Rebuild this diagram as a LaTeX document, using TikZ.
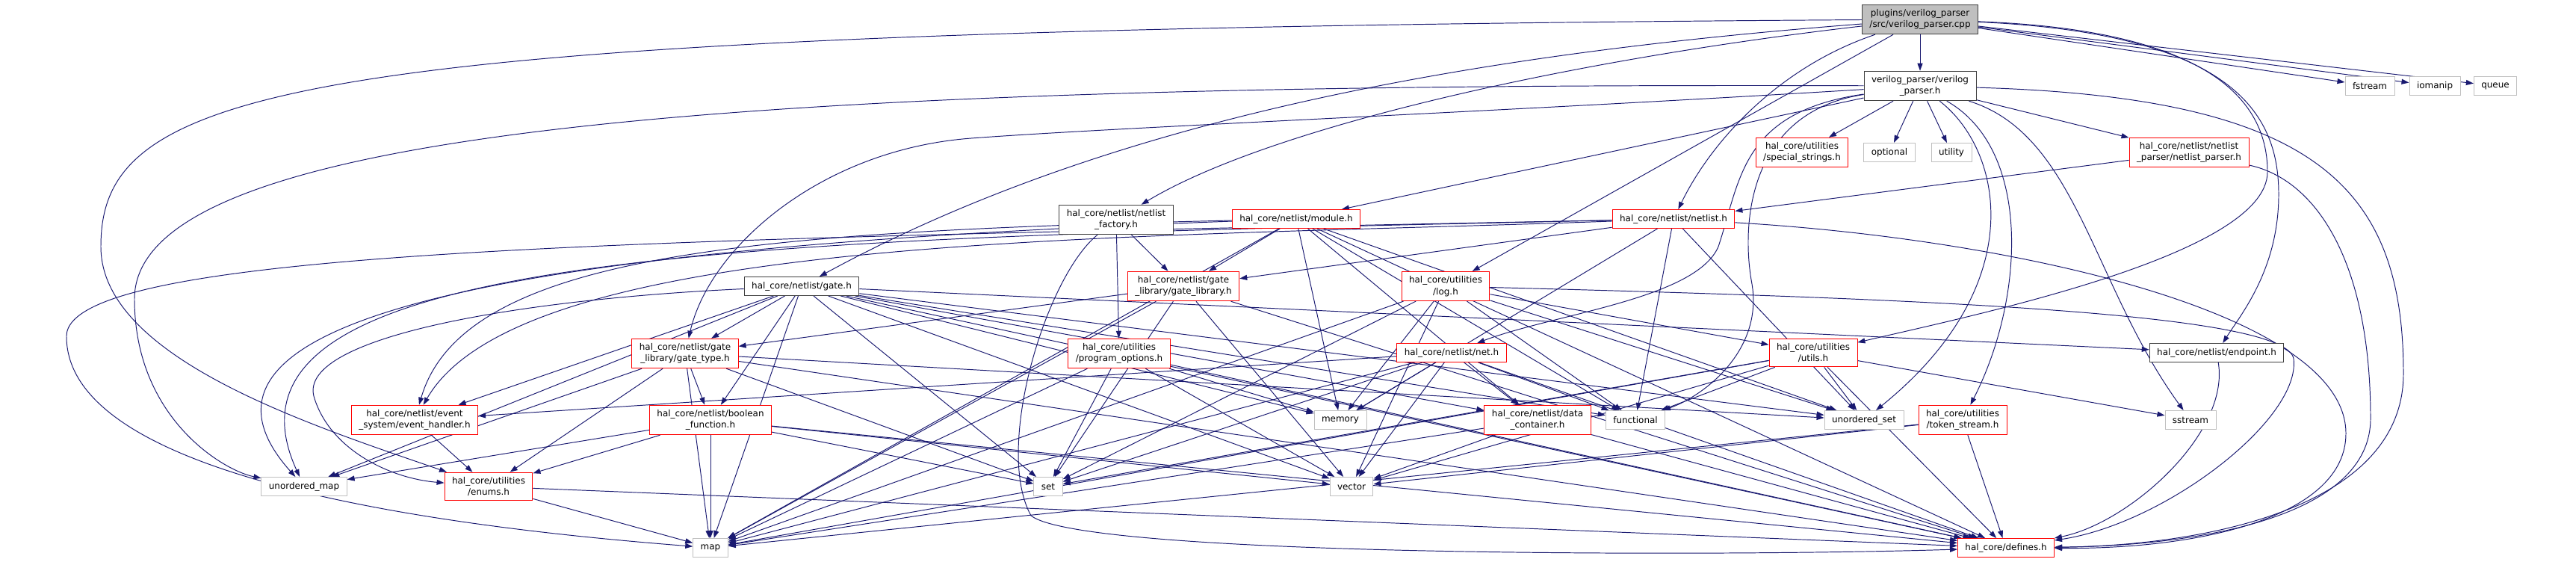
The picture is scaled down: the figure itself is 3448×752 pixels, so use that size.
\documentclass[tikz,border=0pt]{standalone}
\usepackage{fontspec}
\setmainfont{DejaVu Sans}
\usetikzlibrary{arrows.meta}
\definecolor{edgeblue}{HTML}{191970}
\definecolor{boxgray}{HTML}{BFBFBF}
\definecolor{boxline}{HTML}{404040}
\pgfdeclarelayer{back}
\pgfsetlayers{back,main}
\tikzset{
  file/.style={draw=boxline, fill=white, line width=0.55pt, align=center,
    font=\fontsize{6.8}{8.9}\selectfont, inner xsep=2mm, inner ysep=1.2mm, minimum height=5mm},
  partial/.style={file, draw=red},
  sysfile/.style={file, draw=boxgray},
  start/.style={file, fill=boxgray},
  inc/.style={edgeblue, line width=0.55pt, -{Triangle[length=2mm,width=1.4mm]}}
}
\begin{document}
\begin{tikzpicture}[x=0.2mm,y=-0.2mm]
\useasboundingbox (0,0) rectangle (3448,752);
% top rows
\node[start] (cpp) at (2570,26) {plugins/verilog\_parser\\/src/verilog\_parser.cpp};
\node[file] (vph) at (2570,115) {verilog\_parser/verilog\\\_parser.h};
\node[sysfile] (fstream) at (3172,115) {fstream};
\node[sysfile] (iomanip) at (3259,115) {iomanip};
\node[sysfile] (queue) at (3340,115) {queue};
\node[partial] (special) at (2412,204) {hal\_core/utilities\\/special\_strings.h};
\node[sysfile] (optional) at (2529,204) {optional};
\node[sysfile] (utility) at (2612,204) {utility};
\node[partial] (nlparser) at (2930,204) {hal\_core/netlist/netlist\\\_parser/netlist\_parser.h};
\node[file] (factory) at (1494,294) {hal\_core/netlist/netlist\\\_factory.h};
\node[partial] (module) at (1735,293) {hal\_core/netlist/module.h};
\node[partial] (netlist) at (2240,293) {hal\_core/netlist/netlist.h};
% middle rows
\node[file] (gate) at (1073,383) {hal\_core/netlist/gate.h};
\node[partial] (gatelib) at (1584,383) {hal\_core/netlist/gate\\\_library/gate\_library.h};
\node[partial] (log) at (1935,383) {hal\_core/utilities\\/log.h};
\node[partial] (gatetype) at (917,473) {hal\_core/netlist/gate\\\_library/gate\_type.h};
\node[partial] (progopt) at (1498,473) {hal\_core/utilities\\/program\_options.h};
\node[partial] (net) at (1943,472) {hal\_core/netlist/net.h};
\node[partial] (utils) at (2427,472) {hal\_core/utilities\\/utils.h};
\node[file] (endpoint) at (2967,472) {hal\_core/netlist/endpoint.h};
\node[partial] (event) at (555,562) {hal\_core/netlist/event\\\_system/event\_handler.h};
\node[partial] (boolfn) at (951,562) {hal\_core/netlist/boolean\\\_function.h};
\node[sysfile] (memory) at (1794,562) {memory};
\node[partial] (datacont) at (2058,562) {hal\_core/netlist/data\\\_container.h};
\node[sysfile] (functional) at (2189,562) {functional};
\node[sysfile] (uset) at (2495,562) {unordered\_set};
\node[partial] (token) at (2627,562) {hal\_core/utilities\\/token\_stream.h};
\node[sysfile] (sstream) at (2932,562) {sstream};
% bottom rows
\node[sysfile] (umap) at (407,651) {unordered\_map};
\node[partial] (enums) at (654,651) {hal\_core/utilities\\/enums.h};
\node[sysfile] (set) at (1403,651) {set};
\node[sysfile] (vector) at (1809,651) {vector};
\node[sysfile] (map) at (951,733) {map};
\node[partial] (defines) at (2685,733) {hal\_core/defines.h};

\begin{pgfonlayer}{back}
% verilog_parser.cpp
\foreach \t in {vph,log,fstream,iomanip,queue}
  \draw[inc] (cpp) -- (\t);
\draw[inc] (cpp) .. controls (2380,90) and (2290,190) .. (netlist);
\draw[inc] (cpp) .. controls (2000,70) and (1500,150) .. (gate);
\draw[inc] (cpp) .. controls (2100,80) and (1700,170) .. (factory);
\draw[inc] (cpp) .. controls (400,40) and (135,110) .. (135,330) .. controls (135,480) and (420,570) .. (enums);
\draw[inc] (cpp) .. controls (2950,40) and (3035,130) .. (3035,230) .. controls (3035,340) and (2650,420) .. (utils);
\draw[inc] (cpp) .. controls (3000,45) and (3050,160) .. (3050,260) .. controls (3050,360) and (3000,420) .. (endpoint);
% verilog_parser.h
\foreach \t in {special,optional,utility,nlparser,module}
  \draw[inc] (vph) -- (\t);
\draw[inc] (vph) .. controls (2330,150) and (2330,240) .. (2300,330) .. controls (2270,400) and (2080,420) .. (net);
\draw[inc] (vph) .. controls (1000,110) and (180,170) .. (180,400) .. controls (180,560) and (300,630) .. (umap);
\draw[inc] (vph) .. controls (2000,150) and (1500,170) .. (1300,185) .. controls (1100,200) and (950,330) .. (gatetype);
\draw[inc] (vph) .. controls (2340,150) and (2330,300) .. (2345,380) .. controls (2360,470) and (2280,530) .. (functional);
\draw[inc] (vph) .. controls (2680,200) and (2720,380) .. (uset);
\draw[inc] (vph) .. controls (2720,200) and (2710,400) .. (token);
\draw[inc] (vph) .. controls (2780,180) and (2800,380) .. (sstream);
\draw[inc] (vph) .. controls (3100,130) and (3217,250) .. (3217,500) .. controls (3217,680) and (2950,730) .. (defines);
% netlist parser and netlist
\draw[inc] (nlparser) -- (netlist);
\draw[inc] (nlparser) .. controls (3100,240) and (3173,350) .. (3173,560) .. controls (3173,690) and (2950,730) .. (defines);
\foreach \t in {gatelib,memory,functional,uset}
  \draw[inc] (netlist) -- (\t);
\draw[inc] (netlist) .. controls (1500,320) and (700,310) .. (event);
\draw[inc] (netlist) .. controls (1000,320) and (260,330) .. (umap);
\draw[inc] (netlist) .. controls (900,320) and (89,330) .. (89,450) .. controls (89,600) and (400,690) .. (map);
\draw[inc] (netlist) .. controls (2700,320) and (3140,420) .. (3140,580) .. controls (3140,690) and (2950,735) .. (defines);
% module
\foreach \t in {gatelib,memory,functional,datacont,uset,defines,map}
  \draw[inc] (module) -- (\t);
\draw[inc] (module) .. controls (1000,310) and (620,340) .. (event);
\draw[inc] (module) .. controls (700,330) and (200,420) .. (umap);
% netlist factory
\foreach \t in {gatelib,progopt}
  \draw[inc] (factory) -- (\t);
\draw[inc] (factory) .. controls (1400,370) and (1330,600) .. (1380,690) .. controls (1450,745) and (2300,745) .. (defines);
% gate library and gate
\foreach \t in {gatetype,set,map,vector,defines}
  \draw[inc] (gatelib) -- (\t);
\foreach \t in {gatetype,boolfn,set,event,umap,map,memory,functional,vector,datacont,defines,endpoint,uset}
  \draw[inc] (gate) -- (\t);
\draw[inc] (gate) .. controls (700,400) and (400,450) .. (420,530) .. controls (440,600) and (520,640) .. (enums);
% log, utils, net
\foreach \t in {memory,set,functional,map,vector,uset,utils}
  \draw[inc] (log) -- (\t);
\draw[inc] (log) .. controls (2600,400) and (3060,420) .. (3070,480) .. controls (3080,560) and (2900,700) .. (defines);
\foreach \t in {functional,uset,vector,set,map,defines,sstream}
  \draw[inc] (utils) -- (\t);
\foreach \t in {memory,vector,set,map,functional,datacont,event,defines}
  \draw[inc] (net) -- (\t);
% lower headers
\foreach \t in {vector,map,defines}
  \draw[inc] (datacont) -- (\t);
\foreach \t in {set,map,vector,memory,defines}
  \draw[inc] (progopt) -- (\t);
\foreach \t in {boolfn,enums,map,set,umap,uset,defines}
  \draw[inc] (gatetype) -- (\t);
\foreach \t in {map,enums,umap,set,vector,defines}
  \draw[inc] (boolfn) -- (\t);
\draw[inc] (event) -- (enums);
\foreach \t in {map,defines}
  \draw[inc] (enums) -- (\t);
\foreach \t in {defines,map,vector}
  \draw[inc] (token) -- (\t);
\draw[inc] (endpoint) .. controls (2985,580) and (2850,700) .. (defines);
\end{pgfonlayer}
\end{tikzpicture}
\end{document}
